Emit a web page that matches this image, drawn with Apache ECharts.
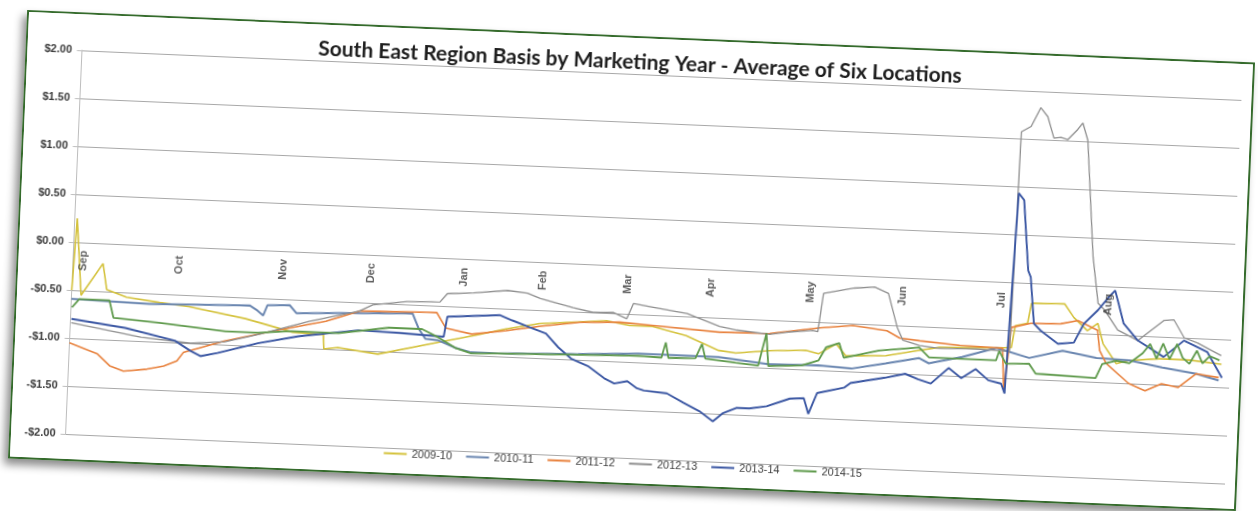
<!DOCTYPE html>
<html>
<head>
<meta charset="utf-8">
<script src="https://cdn.jsdelivr.net/npm/echarts@6/dist/echarts.min.js"></script>
<style>
  html, body { margin: 0; padding: 0; background: #ffffff; width: 1258px; height: 511px; overflow: hidden; }
  #card {
    position: absolute; left: 17px; top: 36px; width: 1229px; height: 449px;
    box-sizing: border-box; border: 2.5px solid #356b2c; background: #ffffff;
    transform: rotate(2.45deg); transform-origin: 50% 50%;
    box-shadow: -4px 6px 9px rgba(0,0,0,0.45);
  }
  #chart { width: 100%; height: 100%; }
</style>
</head>
<body>
<div id="card"><div id="chart"></div></div>
<script>
// ---- data (x = position along the marketing year, 0..365; y = basis in $/bu) ----
const seriesNames = ['2009-10', '2010-11', '2011-12', '2012-13', '2013-14', '2014-15'];
const seriesColors = ['#d4c23c', '#6a86b0', '#e8823e', '#8f8f8f', '#3b57a3', '#5f9a4c'];

const monthLabels = ['Sep','Oct','Nov','Dec','Jan','Feb','Mar','Apr','May','Jun','Jul','Aug'];
const monthPos = [3.2, 33.6, 66.1, 93.8, 123.2, 148.0, 174.8, 200.7, 232.3, 261.2, 292.4, 325.9];
const monthLabelLevel = -0.19;

const yTicks = { min: -2, max: 2, step: 0.5 };

const s2009 = [[0,-0.50],[0.8,0.25],[3,-0.55],[9.5,-0.21],[11,-0.48],[17.3,-0.55],[27.7,-0.59],[37,-0.62],[55,-0.72],[70,-0.84],[79.7,-0.85],[80,-1.0],[84.4,-0.98],[97,-1.03],[115.9,-0.88],[126.3,-0.80],[137,-0.71],[147.4,-0.64],[168.5,-0.58],[175.8,-0.62],[183,-0.62],[193.7,-0.70],[204.1,-0.84],[209.5,-0.86],[219.9,-0.82],[231.5,-0.80],[235.6,-0.83],[241,-0.72],[244.1,-0.84],[256.7,-0.82],[267.1,-0.75],[273.4,-0.71],[291.4,-0.69],[296,-0.68],[297,-0.45],[300.8,-0.42],[301.8,-0.21],[312.2,-0.20],[315.3,-0.34],[319.7,-0.47],[322.9,-0.39],[324.8,-0.60],[329.2,-0.80],[333.3,-0.76],[342.7,-0.73],[352.2,-0.73],[362.3,-0.76]];

const s2010 = [[0,-0.59],[24.6,-0.61],[56.1,-0.58],[58.6,-0.63],[60.5,-0.68],[61.7,-0.57],[68.7,-0.56],[70.9,-0.64],[84.4,-0.62],[107.4,-0.59],[109.6,-0.75],[111.8,-0.85],[115.9,-0.86],[121.3,-0.93],[126.3,-0.97],[134.8,-0.97],[160,-0.94],[178.9,-0.91],[204.1,-0.91],[219.9,-0.96],[235.6,-0.95],[246,-0.97],[256.7,-0.90],[267.1,-0.83],[270.3,-0.88],[280.7,-0.80],[291.4,-0.69],[301.8,-0.78],[312.2,-0.69],[322.9,-0.75],[333.3,-0.76],[343.7,-0.82],[354.4,-0.87],[361.6,-0.93]];

const s2011 = [[0,-1.05],[8.8,-1.15],[12.9,-1.27],[17.3,-1.32],[24.6,-1.29],[29.9,-1.25],[34,-1.19],[35.9,-1.10],[48.8,-0.96],[64.6,-0.83],[80.3,-0.71],[90.7,-0.59],[115,-0.57],[118.1,-0.73],[126.3,-0.78],[137,-0.73],[147.4,-0.67],[160,-0.61],[172.6,-0.59],[183,-0.61],[204.1,-0.65],[219.9,-0.64],[235.6,-0.56],[246,-0.52],[256.7,-0.56],[260.8,-0.63],[267.1,-0.65],[279.7,-0.68],[293.3,-0.69],[294.2,-1.14],[295.8,-0.47],[301.8,-0.42],[311.2,-0.41],[316.6,-0.37],[322.9,-0.46],[323.8,-0.67],[326,-0.80],[333.3,-1.00],[338.6,-1.07],[343.7,-0.99],[349,-1.02],[354.4,-0.87],[361.6,-0.90]];

const s2012 = [[0.3,-0.84],[22.4,-0.96],[38.1,-1.00],[48.8,-0.97],[59.2,-0.88],[75,-0.72],[90.7,-0.59],[94.8,-0.52],[105.5,-0.47],[115.9,-0.46],[118.1,-0.37],[126.3,-0.35],[137,-0.31],[143.3,-0.33],[147.4,-0.38],[157.8,-0.46],[164.1,-0.50],[170.4,-0.49],[174.8,-0.55],[176.7,-0.39],[183,-0.42],[193.7,-0.47],[204.1,-0.59],[209.5,-0.62],[219.9,-0.65],[225.2,-0.62],[233.4,-0.59],[235,-0.60],[236.3,-0.20],[246,-0.13],[252.3,-0.11],[256.7,-0.17],[259.9,-0.52],[261.8,-0.65],[267.1,-0.70],[273.4,-0.72],[285,-0.71],[295.5,-0.72],[296.3,1.57],[299.3,1.63],[302.1,1.83],[304.4,1.74],[306.6,1.52],[308.8,1.53],[311,1.51],[314,1.62],[315.5,1.69],[317.3,1.51],[320.5,0.30],[322.7,-0.18],[324.9,-0.25],[329.2,-0.45],[335.7,-0.55],[343.6,-0.33],[346.8,-0.32],[350.2,-0.50],[354.6,-0.55],[362.1,-0.67]];

const s2013 = [[0.3,-0.80],[17.3,-0.87],[33.1,-0.98],[38.1,-1.08],[41.3,-1.13],[46.6,-1.09],[59.2,-0.97],[71.8,-0.88],[90.7,-0.79],[103.3,-0.80],[117.5,-0.82],[118.4,-0.61],[134.8,-0.57],[138.9,-0.62],[143.3,-0.67],[149.6,-0.74],[153.7,-0.88],[157.8,-0.99],[163.2,-1.06],[168.5,-1.18],[171.7,-1.23],[175.8,-1.20],[178.9,-1.27],[181.1,-1.29],[188.4,-1.31],[193.7,-1.40],[198.8,-1.48],[203.2,-1.58],[206.3,-1.49],[210.4,-1.43],[214.5,-1.43],[219.9,-1.40],[227.1,-1.31],[231.5,-1.30],[233.1,-1.46],[235.6,-1.24],[244.1,-1.17],[246,-1.12],[256.7,-1.05],[263,-1.00],[267.1,-1.05],[271.2,-1.09],[276.6,-0.92],[280.7,-1.02],[285.1,-0.92],[289.2,-1.03],[293.3,-1.06],[294.5,-1.16],[296.3,0.93],[298.1,0.86],[300.3,0.13],[301.2,0.06],[302.8,-0.42],[305,-0.49],[310.6,-0.62],[315.6,-0.60],[318.5,-0.40],[322.8,-0.25],[326,-0.11],[327.9,-0.04],[329.2,-0.18],[331,-0.38],[335.7,-0.55],[344,-0.71],[350.2,-0.53],[357.7,-0.64],[362.6,-0.90]];

const s2014 = [[0.3,-0.68],[2.5,-0.59],[12,-0.59],[13.5,-0.77],[27.7,-0.80],[48.8,-0.86],[59.2,-0.86],[69.6,-0.83],[84.4,-0.83],[100.2,-0.75],[110.6,-0.75],[115.9,-0.83],[121.3,-0.93],[126.3,-0.98],[134.8,-0.97],[178.9,-0.93],[186.2,-0.94],[187.4,-0.78],[188.4,-0.94],[196.9,-0.93],[198.8,-0.78],[200,-0.93],[209.5,-0.96],[216.7,-0.98],[218.9,-0.64],[219.9,-0.98],[230.3,-0.96],[235.6,-0.90],[237.8,-0.76],[241.9,-0.71],[243.5,-0.86],[254.5,-0.77],[267.1,-0.72],[270.3,-0.82],[291.4,-0.82],[292.3,-0.72],[294.5,-0.85],[301.8,-0.84],[304,-0.94],[322.9,-0.96],[324.8,-0.81],[329.2,-0.77],[333.3,-0.79],[337.4,-0.68],[339.6,-0.58],[341.8,-0.73],[343.7,-0.57],[345.9,-0.73],[348.1,-0.57],[350,-0.71],[352.2,-0.77],[354.4,-0.63],[356.3,-0.76],[358.5,-0.68],[361.6,-0.72]];

const seriesData = [s2009, s2010, s2011, s2012, s2013, s2014];
const seriesWidths = [1.6, 2.0, 1.6, 1.3, 1.9, 1.8];

// ---- chart ----
const chart = echarts.init(document.getElementById('chart'), null, { renderer: 'canvas' });

const lineSeries = seriesNames.map((name, i) => ({
  name: name,
  type: 'line',
  data: seriesData[i],
  symbol: 'none',
  smooth: false,
  lineStyle: { color: seriesColors[i], width: seriesWidths[i] },
  itemStyle: { color: seriesColors[i] },
  z: 3
}));

const monthSeries = {
  name: 'months',
  type: 'scatter',
  data: monthPos.map((p, i) => [p, monthLabelLevel, monthLabels[i]]),
  symbolSize: 1,
  itemStyle: { color: 'rgba(0,0,0,0)' },
  silent: true,
  z: 5,
  label: {
    show: true,
    position: 'inside',
    rotate: 90,
    formatter: p => p.value[2],
    fontFamily: 'Liberation Sans, Arial, sans-serif',
    fontSize: 11,
    fontWeight: 'bold',
    color: '#333333'
  }
};

chart.setOption({
  animation: false,
  backgroundColor: '#ffffff',
  title: {
    text: 'South East Region Basis by Marketing Year - Average of Six Locations',
    left: 'center',
    top: 9,
    textStyle: { fontFamily: 'Lato, Open Sans, sans-serif', fontSize: 21, fontWeight: 'bold', color: '#1e1e1e' }
  },
  legend: {
    data: seriesNames,
    bottom: 9,
    left: 'center',
    icon: 'rect',
    itemWidth: 23,
    itemHeight: 2,
    itemGap: 14,
    textStyle: { fontFamily: 'Liberation Sans, Arial, sans-serif', fontSize: 11, color: '#404040' }
  },
  grid: { left: 54.5, right: 10, top: 36, bottom: 25 },
  xAxis: {
    type: 'value',
    min: 0,
    max: 365,
    axisLine: { show: false },
    axisTick: { show: false },
    axisLabel: { show: false },
    splitLine: { show: false }
  },
  yAxis: {
    type: 'value',
    min: yTicks.min,
    max: yTicks.max,
    interval: yTicks.step,
    axisLine: { show: true, lineStyle: { color: '#bdbdbd', width: 1 } },
    axisTick: { show: true, length: 5, lineStyle: { color: '#bdbdbd' } },
    axisLabel: {
      margin: 10,
      fontFamily: 'Liberation Sans, Arial, sans-serif',
      fontSize: 11,
      fontWeight: 'bold',
      color: '#3a3a3a',
      formatter: v => (v < 0 ? '-' : '') + '$' + Math.abs(v).toFixed(2)
    },
    splitLine: { show: true, lineStyle: { color: '#a8a8a8', width: 1.2 } }
  },
  series: [...lineSeries, monthSeries]
});
</script>
</body>
</html>
